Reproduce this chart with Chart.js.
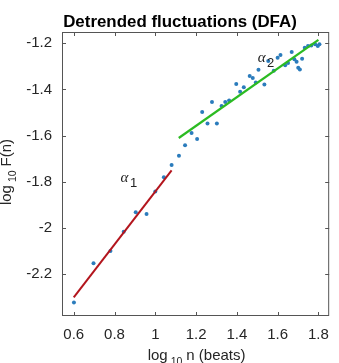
<!DOCTYPE html>
<html>
<head>
<meta charset="utf-8">
<script src="https://cdn.jsdelivr.net/npm/chart.js@4.4.0/dist/chart.umd.min.js"></script>
<style>
  html, body { margin: 0; padding: 0; background: #fff; }
</style>
</head>
<body>
<canvas id="dfaChart" width="339" height="363"></canvas>
<script>
// log10 n (beats) / log10 F(n) values
const logN = [0.601, 0.697, 0.780, 0.845, 0.904, 0.957, 1.000, 1.042, 1.080, 1.116,
              1.146, 1.178, 1.205, 1.230, 1.256, 1.278, 1.302, 1.325, 1.343, 1.362,
              1.397, 1.416, 1.434, 1.463, 1.478, 1.506, 1.493, 1.535, 1.554, 1.581,
              1.600, 1.614, 1.637, 1.651, 1.669, 1.682, 1.693, 1.701, 1.709, 1.720,
              1.733, 1.749, 1.765, 1.784, 1.797, 1.805];
const logF = [-2.323, -2.152, -2.099, -2.016, -1.932, -1.939, -1.842, -1.780, -1.727, -1.687,
              -1.642, -1.588, -1.614, -1.497, -1.547, -1.454, -1.547, -1.471, -1.454, -1.448,
              -1.376, -1.410, -1.390, -1.342, -1.350, -1.314, -1.370, -1.378, -1.277, -1.319,
              -1.262, -1.251, -1.295, -1.285, -1.238, -1.269, -1.280, -1.306, -1.313, -1.267,
              -1.219, -1.212, -1.209, -1.204, -1.212, -1.204];

// fitted lines (short term alpha1, long term alpha2)
const fit1X = [0.6, 1.08];
const fit1Y = [-2.30, -1.75];
const fit2X = [1.115, 1.80];
const fit2Y = [-1.61, -1.185];

const xTicks = [0.6, 0.8, 1.0, 1.2, 1.4, 1.6, 1.8];
const yTicks = [-2.2, -2.0, -1.8, -1.6, -1.4, -1.2];

const alphaLabels = [
    { x: 0.849, y: -1.784, sub: '1' },
    { x: 1.522, y: -1.266, sub: '2' }
];

const fmt = v => String(Math.round(v * 10) / 10);
const toPts = (xs, ys) => xs.map((x, i) => ({ x: x, y: ys[i] }));

const SANS = '"Liberation Sans", Arial, sans-serif';

// "log" + subscript "10" + rest, centred on cx, baseline at 0
function drawLogLabel(ctx, rest, cx) {
    const main = '15px ' + SANS, small = '10.5px ' + SANS;
    ctx.font = main;
    const w1 = ctx.measureText('log').width;
    const w3 = ctx.measureText(rest).width;
    ctx.font = small;
    const w2 = ctx.measureText('10').width;
    const total = w1 + 3 + w2 + 4 + w3;
    let x = cx - total / 2;
    ctx.textAlign = 'left';
    ctx.textBaseline = 'alphabetic';
    ctx.font = main;
    ctx.fillText('log', x, 0);
    x += w1 + 3;
    ctx.font = small;
    ctx.fillText('10', x, 5);
    x += w2 + 4;
    ctx.font = main;
    ctx.fillText(rest, x, 0);
}

// box + inward ticks like matlab
const framePlugin = {
    id: 'frame',
    beforeDatasetsDraw(chart) {
        const { ctx, chartArea: a, scales } = chart;
        ctx.save();
        ctx.strokeStyle = '#555';
        ctx.lineWidth = 1;
        ctx.strokeRect(a.left + 0.5, a.top + 0.5, a.right - a.left - 1, a.bottom - a.top - 1);
        ctx.beginPath();
        scales.x.ticks.forEach(t => {
            const px = Math.round(scales.x.getPixelForValue(t.value)) + 0.5;
            ctx.moveTo(px, a.bottom); ctx.lineTo(px, a.bottom - 4);
            ctx.moveTo(px, a.top); ctx.lineTo(px, a.top + 4);
        });
        scales.y.ticks.forEach(t => {
            const py = Math.round(scales.y.getPixelForValue(t.value)) + 0.5;
            ctx.moveTo(a.left, py); ctx.lineTo(a.left + 4, py);
            ctx.moveTo(a.right, py); ctx.lineTo(a.right - 4, py);
        });
        ctx.stroke();
        ctx.restore();
    },
    afterDraw(chart) {
        const { ctx, chartArea: a, scales } = chart;
        ctx.save();
        // title
        ctx.fillStyle = '#000';
        ctx.font = 'bold 16.9px ' + SANS;
        ctx.textAlign = 'center';
        ctx.textBaseline = 'alphabetic';
        ctx.fillText('Detrended fluctuations (DFA)', 180, 27);

        // axis titles
        ctx.fillStyle = '#262626';
        ctx.save();
        ctx.translate(0, 360);
        drawLogLabel(ctx, 'n (beats)', (a.left + a.right) / 2 + 1);
        ctx.restore();
        ctx.save();
        ctx.translate(11, 0);
        ctx.rotate(-Math.PI / 2);
        drawLogLabel(ctx, 'F(n)', -172);
        ctx.restore();

        // alpha labels
        alphaLabels.forEach(l => {
            const px = scales.x.getPixelForValue(l.x);
            const py = scales.y.getPixelForValue(l.y);
            ctx.fillStyle = '#222';
            ctx.textAlign = 'center';
            ctx.textBaseline = 'middle';
            ctx.font = 'italic 15px "Liberation Serif", serif';
            ctx.fillText('\u03b1', px, py);
            ctx.font = '13px ' + SANS;
            ctx.fillText(l.sub, px + 9, py + 5);
        });
        ctx.restore();
    }
};

const tickFont = { family: SANS, size: 15 };

const ctx = document.getElementById('dfaChart').getContext('2d');
const dfaChart = new Chart(ctx, {
    type: 'scatter',
    data: {
        datasets: [
            {
                label: 'alpha1',
                data: toPts(fit1X, fit1Y),
                showLine: true,
                borderColor: '#b3151d',
                borderWidth: 2,
                pointRadius: 0
            },
            {
                label: 'alpha2',
                data: toPts(fit2X, fit2Y),
                showLine: true,
                borderColor: '#2cbb22',
                borderWidth: 2.2,
                pointRadius: 0
            },
            {
                label: 'F(n)',
                data: toPts(logN, logF),
                pointRadius: 2,
                pointBorderWidth: 0,
                pointBackgroundColor: '#2b7cbc'
            }
        ]
    },
    options: {
        responsive: false,
        animation: false,
        layout: { padding: { top: 32, right: 4, left: 0, bottom: 0 } },
        plugins: {
            legend: { display: false },
            tooltip: { enabled: false }
        },
        scales: {
            x: {
                type: 'linear',
                min: 0.5424,
                max: 1.8528,
                afterBuildTicks: s => { s.ticks = xTicks.map(v => ({ value: v })); },
                afterFit: s => { s.height = 47; },
                grid: { display: false, drawTicks: false },
                border: { display: false },
                ticks: { padding: 10, color: '#262626', font: tickFont, callback: fmt, maxRotation: 0 }
            },
            y: {
                type: 'linear',
                min: -2.381,
                max: -1.151,
                afterBuildTicks: s => { s.ticks = yTicks.map(v => ({ value: v })); },
                afterFit: s => { s.width = 62; },
                grid: { display: false, drawTicks: false },
                border: { display: false },
                ticks: { padding: 10, color: '#262626', font: tickFont, callback: fmt }
            }
        }
    },
    plugins: [framePlugin]
});
</script>
</body>
</html>
